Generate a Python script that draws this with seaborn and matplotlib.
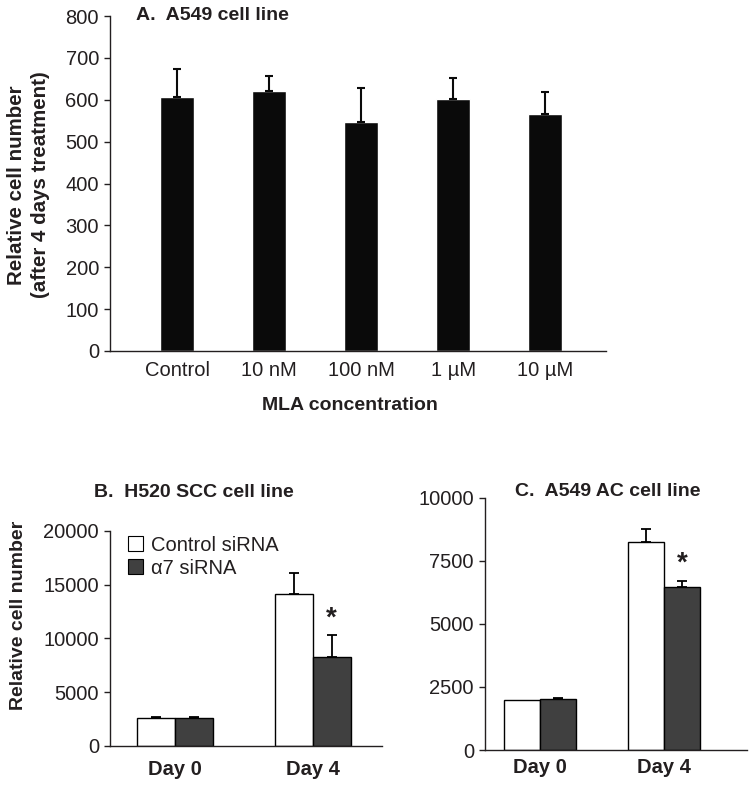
import matplotlib
matplotlib.use("Agg")
import matplotlib.pyplot as plt
from matplotlib.patches import Patch
import seaborn as sns
import pandas as pd

# ---------------- data ----------------
a_categories = ["Control", "10 nM", "100 nM", "1 \u00b5M", "10 \u00b5M"]
a_values = [607, 622, 546, 602, 565]
a_errors = [66, 35, 82, 49, 53]
a_yticks = [0, 100, 200, 300, 400, 500, 600, 700, 800]

days = ["Day 0", "Day 4"]
groups = ["Control siRNA", "\u03b17 siRNA"]

b_control = [2600, 14100]
b_control_err = [100, 2000]
b_a7 = [2600, 8230]
b_a7_err = [100, 2080]
b_yticks = [0, 5000, 10000, 15000, 20000]

c_control = [2000, 8250]
c_control_err = [0, 500]
c_a7 = [2030, 6470]
c_a7_err = [40, 240]
c_yticks = [0, 2500, 5000, 7500, 10000]

sig_day = "Day 4"  # significant difference marked with *

# ---------------- style ----------------
sns.set_theme(style="white")
plt.rcParams["font.family"] = ["Liberation Sans", "DejaVu Sans"]
INK = "#231f20"
plt.rcParams.update({
    "text.color": INK, "axes.labelcolor": INK, "xtick.color": INK,
    "ytick.color": INK, "axes.edgecolor": INK, "axes.linewidth": 1.0,
})
TICK_FS = 14.5
BOLD_FS = 14

W, H = 754, 786
fig = plt.figure(figsize=(W / 100, H / 100), dpi=100)

def ax_rect(l, r, t, b):
    return [l / W, 1 - b / H, (r - l) / W, (b - t) / H]

axA = fig.add_axes(ax_rect(110, 606, 16, 351))
axB = fig.add_axes(ax_rect(110, 382, 531, 745.7))
axC = fig.add_axes(ax_rect(485, 747, 497.7, 750))

def style_axes(ax, xpad):
    for s in ["top", "right"]:
        ax.spines[s].set_visible(False)
    ax.tick_params(axis="y", which="major", direction="out", length=4,
                   width=1, pad=4, labelsize=TICK_FS, left=True)
    ax.tick_params(axis="x", length=0, pad=xpad, labelsize=TICK_FS)

# ---------------- panel A ----------------
dfa = pd.DataFrame({"conc": a_categories, "val": a_values})
sns.barplot(data=dfa, x="conc", y="val", color="#0a0a0a", saturation=1,
            width=0.37, errorbar=None, ax=axA)
for p, e in zip(axA.patches, a_errors):
    xc = p.get_x() + p.get_width() / 2
    axA.errorbar(xc, p.get_height(), yerr=[[0], [e]], fmt="none",
                 ecolor="#0a0a0a", elinewidth=1.5, capsize=3, capthick=1.5,
                 zorder=1)
axA.set_xlim(-0.73, 4.66)
axA.set_ylim(0, 800)
axA.set_yticks(a_yticks)
style_axes(axA, 7)
axA.set_ylabel("Relative cell number\n(after 4 days treatment)",
               fontsize=14.8, fontweight="bold", linespacing=1.3)
axA.yaxis.set_label_coords(-0.121, 0.496)
axA.set_xlabel("MLA concentration", fontsize=BOLD_FS, fontweight="bold")
axA.xaxis.set_label_coords(0.484, -0.137)
axA.text(0.052, 1.0, "A.  A549 cell line", transform=axA.transAxes,
         fontsize=BOLD_FS, fontweight="bold", ha="left", va="center")

# ---------------- panels B & C ----------------
palette = {groups[0]: "white", groups[1]: "#404040"}

def grouped(ax, ctrl, ctrl_err, a7, a7_err, width):
    df = pd.DataFrame({
        "day": days * 2,
        "group": [groups[0]] * len(days) + [groups[1]] * len(days),
        "val": ctrl + a7,
    })
    sns.barplot(data=df, x="day", y="val", hue="group", hue_order=groups,
                palette=palette, saturation=1, width=width, errorbar=None,
                edgecolor="black", linewidth=1, legend=False, ax=ax)
    errs = [ctrl_err, a7_err]
    for cont, err in zip(ax.containers, errs):
        for p, e in zip(cont.patches, err):
            xc = p.get_x() + p.get_width() / 2
            top = p.get_height()
            if e > 0:
                ax.errorbar(xc, top, yerr=[[0], [e]], fmt="none",
                            ecolor="black", elinewidth=1.3, capsize=3.5,
                            capthick=1.3, zorder=1)
    # significance star above alpha7 bar on Day 4
    i = days.index(sig_day)
    p = ax.containers[1].patches[i]
    xc = p.get_x() + p.get_width() / 2
    ax.annotate("*", xy=(xc, p.get_height() + a7_err[i]),
                xytext=(0, 7), textcoords="offset points",
                ha="center", va="baseline", fontsize=20, fontweight="bold")

grouped(axB, b_control, b_control_err, b_a7, b_a7_err, 0.544)
axB.set_xlim(-0.471, 1.5)
axB.set_ylim(0, 20000)
axB.set_yticks(b_yticks)
style_axes(axB, 10)
for t in axB.get_xticklabels():
    t.set_fontweight("bold")
axB.set_xlabel("")
axB.set_ylabel("Relative cell number", fontsize=BOLD_FS, fontweight="bold")
axB.yaxis.set_label_coords(-0.305, 0.609)
axB.text(0.307, 1.18, "B.  H520 SCC cell line", transform=axB.transAxes,
         fontsize=BOLD_FS, fontweight="bold", ha="center", va="center")
handles = [Patch(facecolor=palette[g], edgecolor="black", linewidth=0.8,
                 label=g) for g in groups]
axB.legend(handles=handles, loc="upper left", bbox_to_anchor=(0.066, 0.978),
           frameon=False, fontsize=TICK_FS, handlelength=0.75,
           handleheight=0.75, handletextpad=0.4, labelspacing=0.2,
           borderpad=0.0, borderaxespad=0.0)

grouped(axC, c_control, c_control_err, c_a7, c_a7_err, 0.58)
axC.set_xlim(-0.444, 1.669)
axC.set_ylim(0, 10000)
axC.set_yticks(c_yticks)
style_axes(axC, 6)
for t in axC.get_xticklabels():
    t.set_fontweight("bold")
axC.set_xlabel("")
axC.set_ylabel("")
axC.text(0.468, 1.023, "C.  A549 AC cell line", transform=axC.transAxes,
         fontsize=BOLD_FS, fontweight="bold", ha="center", va="center")

fig.savefig("out.png", dpi=100)
